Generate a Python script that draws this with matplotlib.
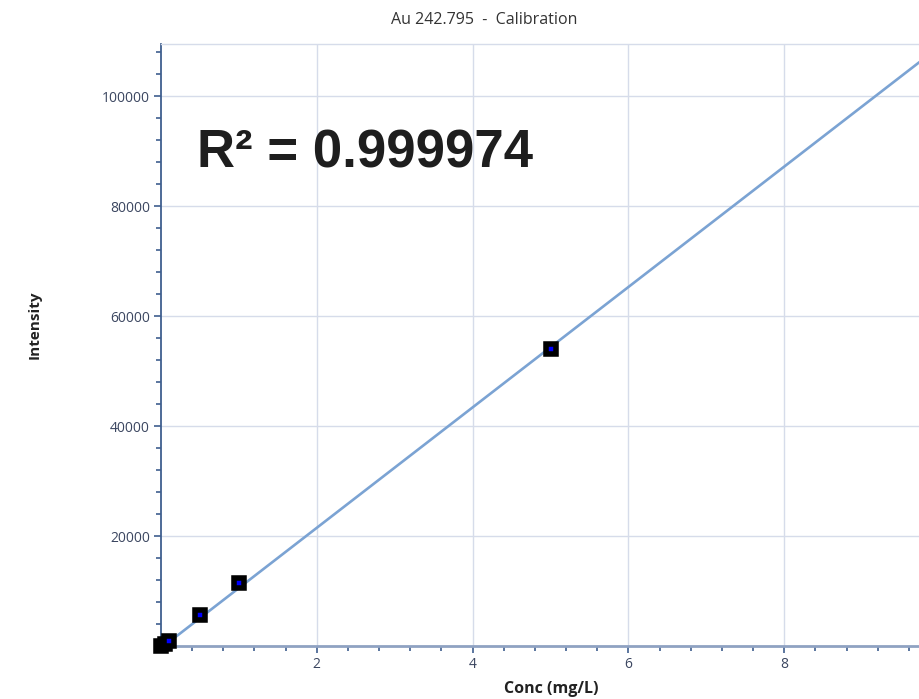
import numpy as np
import matplotlib
matplotlib.use("Agg")
import matplotlib.pyplot as plt
from matplotlib.ticker import FixedLocator

# ---- data ----
conc = [0.0, 0.05, 0.1, 0.5, 1.0, 5.0]
intensity = [0, 400, 1000, 5650, 11400, 54100]
fit_slope = 10950.0
fit_intercept = -400.0
r_squared_text = "R² = 0.999974"
title_text = "Au 242.795  -  Calibration"
x_label = "Conc (mg/L)"
y_label = "Intensity"
x_major = [2, 4, 6, 8]
y_major = [20000, 40000, 60000, 80000, 100000]
x_lim = (0, 9.73)
y_lim = (0, 109500)

W, H = 919, 699
fig = plt.figure(figsize=(W / 100, H / 100), dpi=100)
ax = fig.add_axes([161 / W, 1 - 646 / H, (W - 161) / W, (646 - 44) / H])

# fit line
xl = np.array([0.0, x_lim[1]])
ax.plot(xl, fit_slope * xl + fit_intercept, color="#7ba3d3", lw=1.9, zorder=2)

# points
ax.plot(conc, intensity, ls="none", marker="s", ms=7.0, mew=4.0,
        mfc="#0000ff", mec="#000000", zorder=3, clip_on=False)

ax.set_xlim(*x_lim)
ax.set_ylim(*y_lim)

ax.xaxis.set_major_locator(FixedLocator(x_major))
ax.yaxis.set_major_locator(FixedLocator(y_major))
xminor = [v for v in np.arange(0.4, x_lim[1], 0.4) if abs(v / 2 - round(v / 2)) > 1e-6]
yminor = [v for v in np.arange(4000, y_lim[1], 4000) if v % 20000 != 0]
ax.xaxis.set_minor_locator(FixedLocator(xminor))
ax.yaxis.set_minor_locator(FixedLocator(yminor))

ax.grid(True, which="major", color="#d6dcea", lw=1.0, zorder=0)
ax.set_axisbelow(True)

tick_col = "#3f5f8f"
lab_col = "#3b4660"
ax.tick_params(axis="both", which="major", direction="out", length=5, width=1.2,
               color=tick_col, labelsize=10, labelcolor=lab_col, pad=3)
ax.tick_params(axis="both", which="minor", direction="out", length=3.5, width=1.2,
               color=tick_col)
for lab in ax.get_xticklabels() + ax.get_yticklabels():
    lab.set_fontfamily("Open Sans")

ax.spines["left"].set_color("#3f5f8f")
ax.spines["left"].set_linewidth(1.3)
ax.spines["bottom"].set_color("#8fa2c2")
ax.spines["bottom"].set_linewidth(2.0)
ax.spines["top"].set_color("#d6dcea")
ax.spines["top"].set_linewidth(1.0)
ax.spines["right"].set_visible(False)

fig.text(484 / W, 1 - 20 / H, title_text, ha="center", va="center",
         fontsize=11.5, color="#333333", family="Open Sans")
fig.text(551 / W, 1 - 689 / H, x_label, ha="center", va="center",
         fontsize=11.5, fontweight="bold", color="#222222", family="Open Sans")
fig.text(35 / W, 1 - 325 / H, y_label, ha="center", va="center", rotation=90,
         fontsize=11, fontweight="bold", color="#222222", family="Open Sans")

fig.text(197 / W, 1 - 168 / H, r_squared_text, ha="left", va="baseline",
         fontsize=38, fontweight="bold", color="#1e1e1e", family="Liberation Sans")

fig.savefig("out.png", dpi=100, facecolor="white")
